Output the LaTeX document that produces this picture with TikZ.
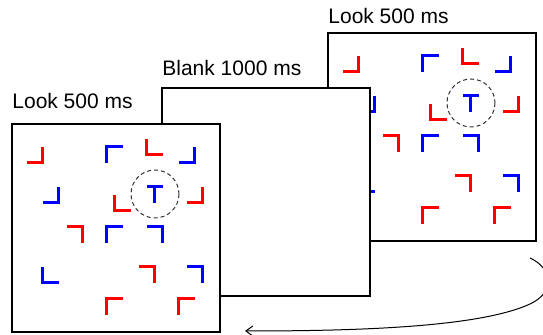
\documentclass[tikz,border=0pt]{standalone}
\usepackage{fontspec}
\setmainfont{Liberation Sans}
\usetikzlibrary{arrows.meta}

\definecolor{stimred}{RGB}{255,0,0}
\definecolor{stimblue}{RGB}{0,0,255}

\tikzset{
  panel/.style={draw, line width=1pt, fill=white, minimum size=104pt, inner sep=0pt},
  ell/.style={line width=1.5pt},
  lbl/.style={anchor=base west, inner sep=0pt, font=\fontsize{10.5}{12}\selectfont},
  cue/.style={draw=black!80, dash pattern=on 2pt off 1.5pt, line width=0.5pt},
}

% search display, drawn from the top left corner of a panel
\newcommand{\searchdisplay}[1]{%
  \begin{scope}[shift={(#1.north west)}]
    \foreach \x/\y/\dx/\dy in {32/40/-1/-1, 136/32/1/-1, 104/88/1/-1, 192/80/-1/-1,
                               72/104/-1/1, 144/144/-1/1, 96/176/1/1, 168/176/1/1}
      \draw[ell, stimred] ({\x+16*\dx},\y) -- (\x,\y) -- (\x,{\y+16*\dy});
    \foreach \x/\y/\dx/\dy in {96/24/1/1, 184/40/-1/-1, 48/80/-1/-1, 96/104/1/1,
                               152/104/-1/1, 32/160/1/-1, 192/144/-1/1}
      \draw[ell, stimblue] ({\x+16*\dx},\y) -- (\x,\y) -- (\x,{\y+16*\dy});
    % target
    \draw[ell, stimblue] (136,64) -- (152,64);
    \draw[ell, stimblue] (144,64) -- (144,80);
    \draw[cue] (144,71) circle[radius=24];
  \end{scope}%
}

\begin{document}
\begin{tikzpicture}[x=0.5pt, y=-0.5pt]
\useasboundingbox (0,0) rectangle (543,335);

% second look (back)
\node[panel] (look2) at (432,137) {};
\searchdisplay{look2}
\node[lbl] (t3) at (328,23.3) {Look 500 ms};

% blank
\node[panel] (blank) at (266,192) {};
\node[lbl] (t2) at (162,75.3) {Blank 1000 ms};

% first look (front)
\node[panel] (look1) at (116,228) {};
\searchdisplay{look1}
\node[lbl] (t1) at (12,108.3) {Look 500 ms};

% back to the start
\coordinate (arrS) at (530,258);
\coordinate (arrE) at (245,331);
\draw[-{Straight Barb[length=3.5pt,width=5pt]}, line width=0.5pt]
  (arrS) .. controls (552,268) and (556,292) .. (530,304)
         .. controls (478,328) and (350,331) .. (arrE);

\end{tikzpicture}
\end{document}
